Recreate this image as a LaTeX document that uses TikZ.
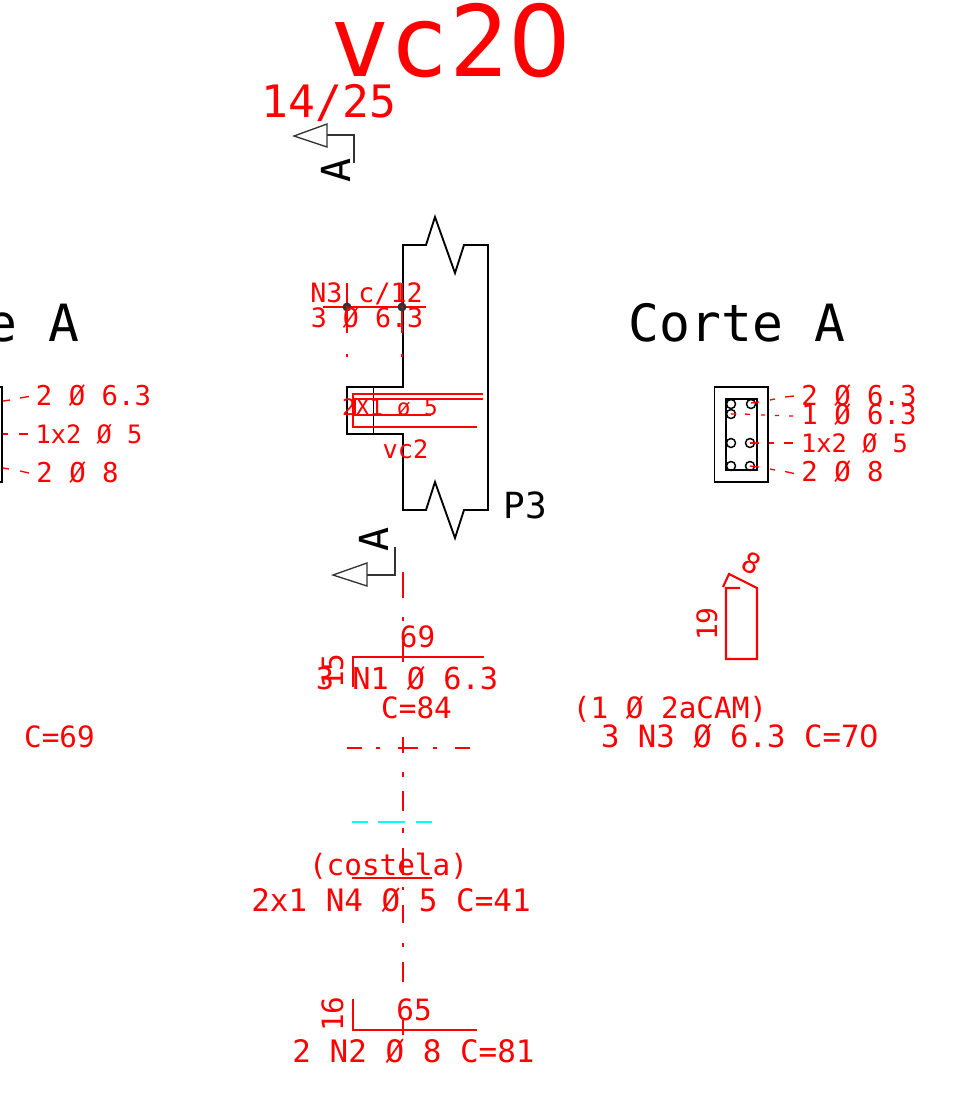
\documentclass[tikz,border=0pt]{standalone}
\usepackage{fontspec}
\setmainfont{DejaVu Sans Mono}
\newfontfamily\plainzero{DejaVu Sans}
\newcommand{\zz}{{\plainzero 0}}
\definecolor{pureRed}{RGB}{255,0,0}
\definecolor{pureCyan}{RGB}{0,255,255}
\tikzset{
 sz/.style={font=\fontsize{#1}{#1}\selectfont},
 lab/.style={inner sep=0pt,outer sep=0pt,anchor=base,text=pureRed},
 blk/.style={lab,text=black},
 blackline/.style={draw=black,line width=1.4pt,line join=miter},
 thinline/.style={draw=black!80,line width=1pt},
 redline/.style={draw=pureRed,line width=1.6pt},
 redthin/.style={draw=pureRed,line width=1pt},
 axis/.style={draw=pureRed,line width=1.1pt},
 cyanline/.style={draw=pureCyan,line width=1.2pt},
 bar/.style={draw=black,line width=1.2pt,fill=none}
}
\begin{document}
\begin{tikzpicture}[x=0.75pt,y=-0.75pt]
\useasboundingbox (0,0) rectangle (975,1100);
\clip (0,0) rectangle (975,1100);
% titles
\node[lab,sz=74pt] (title) at (451,76) {vc2\zz};
\node[lab,sz=33.5pt] (scale) at (329,117) {14/25};
\node[blk,sz=38.5pt] (corteR) at (737,341) {Corte A};
\node[blk,sz=38.5pt] (corteL) at (-29,341) {Corte A};
\node[blk,sz=27pt] (p3) at (525,518) {P3};
% section markers
\draw[thinline] (294,136) -- (327,124) -- (327,147) -- cycle;
\draw[thinline] (327,135) -- (354,135) -- (354,163);
\node[blk,sz=30pt,rotate=90] (cutA1) at (350,170) {A};
\draw[thinline] (333,575) -- (367,563) -- (367,586) -- cycle;
\draw[thinline] (367,575) -- (395,575) -- (395,547);
\node[blk,sz=30pt,rotate=90] (cutA2) at (388,539) {A};
% column elevation
\draw[blackline] (403,387) -- (403,245) -- (426,245) -- (435,217) -- (455,273) -- (464,245) -- (488,245) -- (488,510) -- (464,510) -- (455,538) -- (435,482) -- (426,510) -- (403,510) -- (403,434) -- (347,434) -- (347,387) -- cycle;
\draw[blackline] (373.5,387) -- (373.5,434);
% red detail in elevation
\draw[redthin] (483,394) -- (353,394) -- (353,427) -- (477,427);
\draw[redthin] (483,399) -- (355,399) -- (355,415) -- (431,415);
\draw[redthin] (323,307) -- (426,307);
\draw[axis] (347,283) -- (347,333);
\draw[axis] (402,283) -- (402,333);
\draw[axis] (347,354) -- (347,357);
\draw[axis] (402,354) -- (402,357);
\fill[black!80] (347,307) circle[radius=4.5] (402,307) circle[radius=4.5];
\fill[pureRed] (347,307) circle[radius=1.2] (402,307) circle[radius=1.2];
\node[lab,sz=20pt] (n3a) at (366.5,302) {N3 c/12};
\node[lab,sz=20pt] (n3b) at (367,327) {3 Ø 6.3};
\node[lab,sz=17pt] (costbar) at (390,415) {2X1 ø 5};
\node[lab,sz=19pt] (vc2) at (405.5,458) {vc2};
% right section
\draw[bar] (714.5,387) rectangle (768,482);
\draw[bar] (726,399) rectangle (757,470);
\foreach \cx/\cy in {731/404,751/404,731/414,731/443,750/443,731/466,750/466}
  \draw[black,line width=1.1pt] (\cx,\cy) circle[radius=4.5];
% leaders right
\draw[redthin] (751,403) -- (759,402) (770,400) -- (775,399) (785,397) -- (794,396);
\draw[redthin] (731,414) -- (736,414) (745,414) -- (750,414.5) (761,415) -- (765,415) (775,415.5) -- (779,415.5) (789,416) -- (793,416);
\draw[redthin] (750,443) -- (759,443) (769,443) -- (774,443) (784,443) -- (793,443);
\draw[redthin] (750,466) -- (759,467) (770,469) -- (775,470) (785,471.5) -- (794,473.5);
\node[lab,sz=20.5pt] (r1) at (859,405) {2 Ø 6.3};
\node[lab,sz=20.5pt] (r2) at (859,424) {1 Ø 6.3};
\node[lab,sz=19pt] (r3) at (854.5,452) {1x2 Ø 5};
\node[lab,sz=20.5pt] (r4) at (842.5,481) {2 Ø 8};
% left section (cut by the page)
\draw[bar] (-60,387) rectangle (2,482);
\draw[redthin] (3,401) -- (10,400) (20,398) -- (29,396.5);
\draw[redthin] (3,434) -- (8,434) (19,434) -- (28,434);
\draw[redthin] (3,468) -- (9,469) (20,471) -- (29,473);
\node[lab,sz=20.5pt] (l1) at (93.5,405) {2 Ø 6.3};
\node[lab,sz=19pt] (l2) at (89,443) {1x2 Ø 5};
\node[lab,sz=20.5pt] (l3) at (77.5,482) {2 Ø 8};
% vertical axis
\draw[axis] (403,572) -- (403,598) (403,617) -- (403,621) (403,642) -- (403,662)
 (403,737) -- (403,753) (403,772) -- (403,777) (403,791) -- (403,811)
 (403,828) -- (403,833) (403,848) -- (403,875) (403,887) -- (403,890)
 (403,905) -- (403,923) (403,943) -- (403,947) (403,962) -- (403,982)
 (403,1020) -- (403,1035);
\draw[axis] (347,748) -- (362,748) (376,748) -- (380,748) (398,748) -- (418,748) (433,748) -- (437,748) (455,748) -- (470,748);
\draw[cyanline] (352,822) -- (368,822) (378,822) -- (405,822) (416,822) -- (432,822);
% N1
\draw[redline] (353,687) -- (353,657) -- (484,657);
\node[lab,sz=22pt] (n1dim) at (417.5,647) {69};
\node[lab,sz=22pt,rotate=90] (n1h) at (343,671) {15};
\node[lab,sz=22.7pt] (n1) at (407,689) {3 N1 Ø 6.3};
\node[lab,sz=22pt] (n1c) at (416.5,718) {C=84};
% N4
\draw[redline] (352,878) -- (432,878);
\node[lab,sz=22pt] (n4a) at (388.5,875) {(costela)};
\node[lab,sz=23.2pt] (n4) at (391,911) {2x1 N4 Ø 5 C=41};
% N2
\draw[redline] (353,999) -- (353,1030) -- (477,1030);
\node[lab,sz=22pt] (n2dim) at (414,1020) {65};
\node[lab,sz=22pt,rotate=90] (n2h) at (343,1014) {16};
\node[lab,sz=23.2pt] (n2) at (413.5,1062) {2 N2 Ø 8 C=81};
% N3 stirrup
\draw[redline] (740,588) -- (726,588) -- (726,659) -- (757,659) -- (757,588) -- (729,574) -- (723,587);
\node[lab,sz=21pt,rotate=90] (n3h) at (717,624) {19};
\node[lab,anchor=center,sz=21pt,rotate=-27] (n3w) at (752,563) {8};
\node[lab,sz=22pt] (n3c) at (670,718) {(1 Ø 2aCAM)};
\node[lab,sz=23pt] (n3) at (740,747) {3 N3 Ø 6.3 C=7\zz};
\node[lab,sz=22pt] (n0c) at (59.5,747) {C=69};
\end{tikzpicture}
\end{document}
